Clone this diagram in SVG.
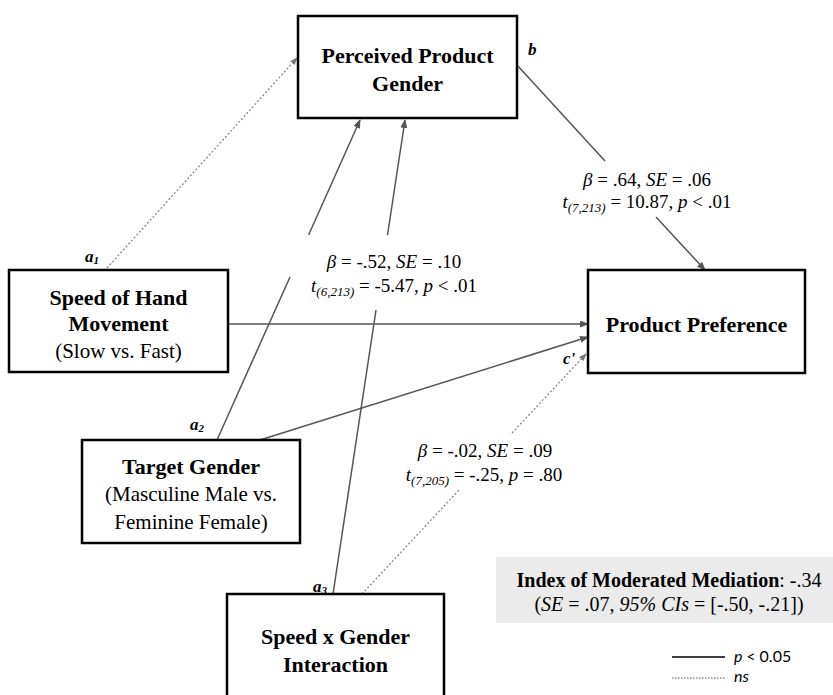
<svg xmlns="http://www.w3.org/2000/svg" width="833" height="695" viewBox="0 0 833 695">
<defs>
<style>
.box{fill:#fff;stroke:#000;stroke-width:2.5}
.t{font-family:"Liberation Serif","Times New Roman",serif;fill:#000}
.bt{font-size:22px;font-weight:bold;text-anchor:middle}
.rt{font-size:21px;text-anchor:middle}
.st{font-size:19px;text-anchor:middle}
.lab{font-size:17px;font-weight:bold;font-style:italic}
.sol{stroke:#555;stroke-width:1.5;fill:none}
.dot{stroke:#888;stroke-width:1.3;stroke-dasharray:2 2;fill:none}
.i{font-style:italic}
.leg{font-family:Lato,"Open Sans",sans-serif;font-size:16px;font-style:italic;fill:#000}
</style>
<marker id="ah" markerWidth="9" markerHeight="7" refX="8" refY="3.5" orient="auto" markerUnits="userSpaceOnUse">
<path d="M0,0 L9,3.5 L0,7 Z" fill="#555"/>
</marker>
<marker id="ahd" markerWidth="8" markerHeight="6" refX="7" refY="3" orient="auto" markerUnits="userSpaceOnUse">
<path d="M0,0 L8,3 L0,6 Z" fill="#777"/>
</marker>
</defs>
<rect width="833" height="695" fill="#fff"/>

<g id="connectors">
<line class="dot" x1="107" y1="268" x2="297" y2="58" marker-end="url(#ahd)"/>
<line class="sol" x1="217" y1="440" x2="290" y2="277"/>
<line class="sol" x1="308.6" y1="235" x2="360" y2="120" marker-end="url(#ah)"/>
<line class="sol" x1="333" y1="594" x2="376" y2="310"/>
<line class="sol" x1="387.5" y1="235" x2="405" y2="120" marker-end="url(#ah)"/>
<line class="sol" x1="517" y1="65" x2="605" y2="161"/>
<line class="sol" x1="656" y1="217" x2="705" y2="270" marker-end="url(#ah)"/>
<line class="sol" x1="229" y1="324" x2="588" y2="324" marker-end="url(#ah)"/>
<line class="sol" x1="260" y1="440" x2="588" y2="337" marker-end="url(#ah)"/>
<line class="dot" x1="362" y1="594" x2="459" y2="490"/>
<line class="dot" x1="512" y1="433" x2="586" y2="354" marker-end="url(#ahd)"/>
</g>

<g id="node-perceived">
<rect class="box" x="298" y="16" width="219" height="102"/>
<text class="t bt" x="407.5" y="63">Perceived Product</text>
<text class="t bt" x="407.5" y="91">Gender</text>
</g>

<g id="node-speed">
<rect class="box" x="9" y="270" width="219" height="102"/>
<text class="t bt" x="118.5" y="305">Speed of Hand</text>
<text class="t bt" x="118.5" y="331">Movement</text>
<text class="t rt" x="118.5" y="358">(Slow vs. Fast)</text>
</g>

<g id="node-target">
<rect class="box" x="82" y="440" width="218" height="103"/>
<text class="t bt" x="191" y="474">Target Gender</text>
<text class="t rt" x="191" y="501">(Masculine Male vs.</text>
<text class="t rt" x="191" y="529">Feminine Female)</text>
</g>

<g id="node-interaction">
<rect class="box" x="227" y="594" width="217" height="130"/>
<text class="t bt" x="335.5" y="644">Speed x Gender</text>
<text class="t bt" x="335.5" y="672">Interaction</text>
</g>

<g id="node-preference">
<rect class="box" x="588" y="270" width="217" height="103"/>
<text class="t bt" x="696.5" y="332">Product Preference</text>
</g>

<g id="path-labels">
<text class="t lab" x="85" y="262">a<tspan font-size="11" dy="2">1</tspan></text>
<text class="t lab" x="190" y="430">a<tspan font-size="11" dy="2">2</tspan></text>
<text class="t lab" x="313" y="592">a<tspan font-size="11" dy="2">3</tspan></text>
<text class="t lab" x="528" y="55">b</text>
<text class="t lab" x="563" y="364">c'</text>
</g>

<g id="stats">
<text class="t st" x="647" y="186"><tspan class="i">β</tspan> = .64, <tspan class="i">SE</tspan> = .06</text>
<text class="t st" x="647" y="208"><tspan class="i">t<tspan font-size="13" dy="4">(7,213)</tspan></tspan><tspan dy="-4"> = 10.87, </tspan><tspan class="i">p</tspan> &lt; .01</text>
<text class="t st" x="394" y="268"><tspan class="i">β</tspan> = -.52, <tspan class="i">SE</tspan> = .10</text>
<text class="t st" x="394" y="292"><tspan class="i">t<tspan font-size="13" dy="4">(6,213)</tspan></tspan><tspan dy="-4"> = -5.47, </tspan><tspan class="i">p</tspan> &lt; .01</text>
<text class="t st" x="485" y="457"><tspan class="i">β</tspan> = -.02, <tspan class="i">SE</tspan> = .09</text>
<text class="t st" x="484" y="481"><tspan class="i">t<tspan font-size="13" dy="4">(7,205)</tspan></tspan><tspan dy="-4"> = -.25, </tspan><tspan class="i">p</tspan> = .80</text>
</g>

<g id="index-box">
<rect x="496" y="557" width="337" height="66" fill="#ebebeb"/>
<text class="t" x="669" y="587" font-size="20" text-anchor="middle"><tspan font-weight="bold">Index of Moderated Mediation</tspan>: -.34</text>
<text class="t" x="669" y="611" font-size="20" text-anchor="middle">(<tspan class="i">SE</tspan> = .07, <tspan class="i">95% CIs</tspan> = [-.50, -.21])</text>
</g>

<g id="legend">
<line x1="672" y1="657" x2="725" y2="657" stroke="#000" stroke-width="1.3"/>
<text class="leg" x="734" y="662">p <tspan font-style="normal">&lt; 0.05</tspan></text>
<line x1="672" y1="678" x2="725" y2="678" stroke="#555" stroke-width="1" stroke-dasharray="1.5 1.5"/>
<text class="leg" x="734" y="682">ns</text>
</g>
</svg>
